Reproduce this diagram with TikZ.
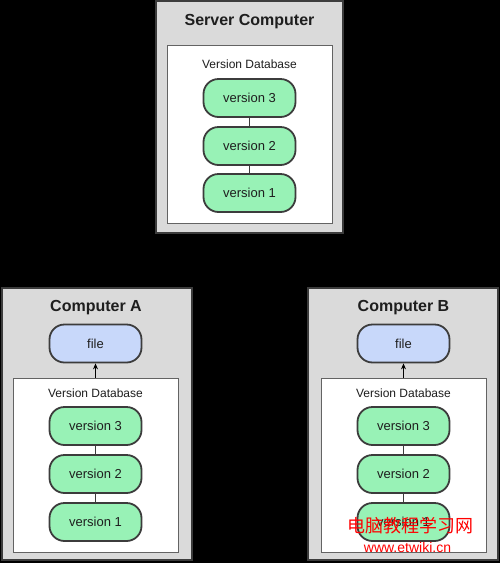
\documentclass[tikz,border=0pt]{standalone}
\usepackage{fontspec}
\setmainfont{Liberation Sans}
\newfontfamily\cjk{Noto Sans CJK SC}
\usetikzlibrary{arrows.meta}
\definecolor{boxgray}{RGB}{218,218,218}
\definecolor{pillgreen}{RGB}{152,242,182}
\definecolor{pillblue}{RGB}{200,216,250}
\definecolor{edgegray}{RGB}{60,60,60}
\definecolor{txt}{RGB}{30,30,30}
\tikzset{
  outerbox/.style={draw=edgegray, line width=1.2pt, fill=boxgray, inner sep=0pt},
  innerbox/.style={draw=edgegray!80, line width=0.8pt, fill=white, inner sep=0pt},
  pill/.style={draw=edgegray, line width=1.8pt, fill=pillgreen, rounded corners=15pt,
    minimum width=92pt, minimum height=38pt, inner sep=0pt, text=txt, font=\fontsize{13}{15}\selectfont},
  filepill/.style={pill, fill=pillblue},
  title/.style={font=\bfseries\fontsize{16}{18}\selectfont, text=txt},
  dblabel/.style={font=\fontsize{12}{14}\selectfont, text=txt},
  link/.style={draw=edgegray, line width=0.8pt},
  arrowlink/.style={draw=black, line width=0.8pt, -{Stealth[length=6pt,width=5pt]}},
  wmtext/.style={text=red}
}
\begin{document}
\begin{tikzpicture}[x=1pt,y=-1pt]
\useasboundingbox (0,0) rectangle (500,563);
\fill[black] (0,0) rectangle (500,563);

% Server
\node[outerbox, minimum width=187pt, minimum height=232pt] (srv) at (249.5,117) {};
\node[innerbox, minimum width=165pt, minimum height=178pt] (srvdb) at (249.5,134) {};
\node[title] (srvt) at (249.5,22) {Server Computer};
\node[dblabel] (srvl) at (249.5,64) {Version Database};
\node[pill] (s3) at (249.5,98) {version 3};
\node[pill] (s2) at (249.5,146) {version 2};
\node[pill] (s1) at (249.5,193) {version 1};
\draw[link] (s3) -- (s2);
\draw[link] (s2) -- (s1);

% Computer A
\node[outerbox, minimum width=190pt, minimum height=272pt] (ca) at (97,424) {};
\node[innerbox, minimum width=165pt, minimum height=174pt] (cadb) at (95.5,465) {};
\node[title] (cat) at (96,308) {Computer A};
\node[filepill] (af) at (95.5,343.5) {file};
\node[dblabel] (cal) at (95.5,393) {Version Database};
\node[pill] (a3) at (95.5,426) {version 3};
\node[pill] (a2) at (95.5,474) {version 2};
\node[pill] (a1) at (95.5,522) {version 1};
\draw[link] (a3) -- (a2);
\draw[link] (a2) -- (a1);
\draw[arrowlink] (cadb.north) -- (af.south);

% Computer B
\node[outerbox, minimum width=190pt, minimum height=272pt] (cb) at (403,424) {};
\node[innerbox, minimum width=165pt, minimum height=174pt] (cbdb) at (403.5,465) {};
\node[title] (cbt) at (403.5,308) {Computer B};
\node[filepill] (bf) at (403.5,343.5) {file};
\node[dblabel] (cbl) at (403.5,393) {Version Database};
\node[pill] (b3) at (403.5,426) {version 3};
\node[pill] (b2) at (403.5,474) {version 2};
\node[pill] (b1) at (403.5,522) {version 1};
\draw[link] (b3) -- (b2);
\draw[link] (b2) -- (b1);
\draw[arrowlink] (cbdb.north) -- (bf.south);

% watermark
\node[wmtext, font=\cjk\fontsize{18}{20}\selectfont] (wm1) at (410.5,526) {电脑教程学习网};
\node[wmtext, font=\fontsize{14}{16}\selectfont] (wm2) at (407.5,547) {www.etwiki.cn};
\end{tikzpicture}
\end{document}
